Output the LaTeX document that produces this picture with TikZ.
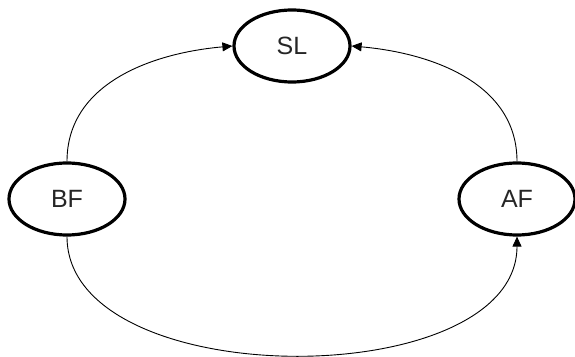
\documentclass[tikz,border=0pt]{standalone}
\usepackage{fontspec}
\setmainfont{Liberation Sans}
\usetikzlibrary{shapes.geometric,arrows.meta}
\begin{document}
\begin{tikzpicture}[x=1pt,y=1pt,
  state/.style={draw,ellipse,line width=3.2pt,inner sep=0pt,minimum width=116pt,minimum height=72pt,font=\fontsize{25}{28}\selectfont,text=black!85},
  link/.style={line width=0.9pt,-{Triangle[length=10pt,width=9pt]}}]
\useasboundingbox (0,0) rectangle (575,356);
\node[state] (SL) at (292,310) {SL};
\node[state] (BF) at (67,157) {BF};
\node[state] (AF) at (517,157) {AF};
\draw[link] (BF.north) to[out=90,in=185] (SL.west);
\draw[link] (AF.north) to[out=90,in=-5] (SL.east);
\draw[link] (BF.south) to[out=-90,in=-90,looseness=0.9] (AF.south);
\end{tikzpicture}
\end{document}
